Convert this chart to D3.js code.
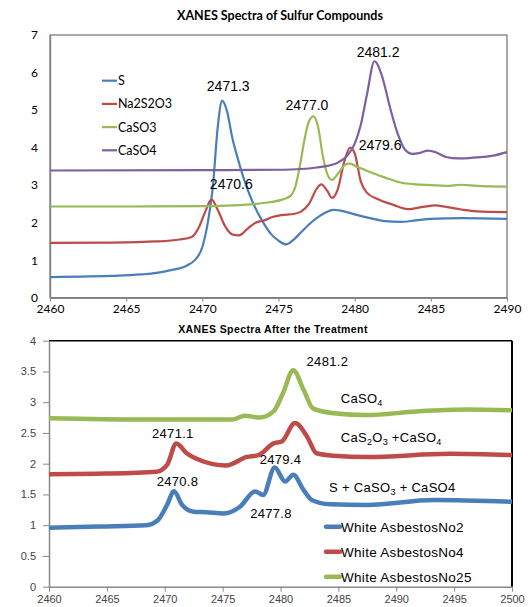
<!DOCTYPE html>
<html>
<head>
<meta charset="utf-8">
<script src="https://cdn.jsdelivr.net/npm/d3@7"></script>
<style>
  body { margin: 0; background: #fff; }
  svg { display: block; }
</style>
</head>
<body>
<div id="chart"></div>
<script>
// XANES spectra — two stacked panels

// ---- top panel data: [energy, intensity]
const topNames = ["S", "Na2S2O3", "CaSO3", "CaSO4"];
const topColors = ["#4a7ebb", "#be4b48", "#98b954", "#7d60a0"];

const sData = [
  [2460, 0.55], [2462, 0.56], [2464, 0.58], [2466, 0.62], [2467, 0.66], [2468, 0.74],
  [2469, 0.86], [2469.5, 1.0], [2470, 1.35], [2470.4, 2.1], [2470.7, 3.0], [2471, 4.5],
  [2471.3, 5.25], [2471.6, 5.0], [2472, 4.2], [2472.3, 3.75], [2472.7, 3.2], [2473.3, 2.55],
  [2474, 2.0], [2474.5, 1.7], [2475, 1.52], [2475.5, 1.42], [2476, 1.55], [2476.5, 1.75],
  [2477, 1.95], [2477.5, 2.12], [2478, 2.25], [2478.6, 2.34], [2479.3, 2.3], [2480, 2.22],
  [2481, 2.12], [2482, 2.04], [2483, 2.02], [2484, 2.06], [2485, 2.1], [2487, 2.12], [2490, 2.1]
];
const na2s2o3Data = [
  [2460, 1.46], [2464, 1.47], [2467, 1.5], [2468.5, 1.55], [2469.3, 1.62], [2469.8, 1.9],
  [2470.2, 2.3], [2470.6, 2.62], [2471, 2.35], [2471.5, 1.9], [2472, 1.68], [2472.4, 1.66],
  [2473, 1.85], [2473.5, 2.0], [2474, 2.05], [2474.6, 2.15], [2475.2, 2.2], [2476, 2.23],
  [2476.5, 2.3], [2477, 2.5], [2477.5, 2.9], [2477.8, 3.02], [2478.2, 2.85], [2478.5, 2.66],
  [2478.9, 2.9], [2479.3, 3.6], [2479.7, 4.0], [2480, 3.85], [2480.4, 3.1], [2480.8, 2.8],
  [2481.5, 2.63], [2482.5, 2.48], [2483.5, 2.36], [2484.5, 2.42], [2485.3, 2.46], [2486, 2.42],
  [2487, 2.35], [2488, 2.3], [2490, 2.28]
];
const caso3Data = [
  [2460, 2.43], [2465, 2.43], [2470, 2.44], [2472, 2.46], [2473.5, 2.5], [2474.5, 2.55],
  [2475.3, 2.62], [2475.8, 2.72], [2476.1, 2.95], [2476.4, 3.5], [2476.7, 4.2], [2477, 4.7],
  [2477.3, 4.83], [2477.6, 4.55], [2477.9, 3.8], [2478.2, 3.3], [2478.5, 3.14], [2478.9, 3.3],
  [2479.4, 3.55], [2479.7, 3.57], [2480.2, 3.48], [2481, 3.35], [2482, 3.2], [2483, 3.07],
  [2484, 3.02], [2485, 3.0], [2486, 2.98], [2487, 3.01], [2488, 2.98], [2490, 2.96]
];
const caso4Data = [
  [2460, 3.39], [2470, 3.4], [2475, 3.41], [2476.5, 3.43], [2477.5, 3.47], [2478.3, 3.52],
  [2478.9, 3.6], [2479.5, 3.78], [2480, 4.1], [2480.4, 4.6], [2480.8, 5.4], [2481.3, 6.3],
  [2481.8, 5.9], [2482.3, 5.1], [2482.8, 4.4], [2483.3, 3.95], [2483.8, 3.83], [2484.3, 3.86],
  [2484.8, 3.92], [2485.3, 3.88], [2486, 3.75], [2486.8, 3.71], [2488, 3.74], [2489, 3.78],
  [2490, 3.88]
];
const topSeries = [sData, na2s2o3Data, caso3Data, caso4Data];

const topXTicks = [2460, 2465, 2470, 2475, 2480, 2485, 2490];
const topYTicks = [0, 1, 2, 3, 4, 5, 6, 7];
// peak labels: [text, anchor energy, anchor value]
const topPeaks = [
  ["2471.3", 2471.7, 5.52],
  ["2477.0", 2476.87, 5.0],
  ["2481.2", 2481.54, 6.42],
  ["2479.6", 2481.67, 3.94],
  ["2470.6", 2471.9, 2.9]
];

// ---- bottom panel data
const botNames = ["White AsbestosNo2", "White AsbestosNo4", "White AsbestosNo25"];
const botColors = ["#4a7ebb", "#be4b48", "#98b954"];

const no2Data = [
  [2460, 0.96], [2464.4, 0.98], [2468.4, 1.0], [2469.4, 1.08], [2470.2, 1.33], [2470.8, 1.55],
  [2471.5, 1.33], [2472.5, 1.22], [2473.6, 1.21], [2475.1, 1.19], [2476.5, 1.3], [2477.8, 1.55],
  [2478.5, 1.49], [2479.5, 1.94], [2480.4, 1.71], [2481.1, 1.82], [2482, 1.57], [2482.7, 1.41],
  [2484.3, 1.34], [2487.5, 1.33], [2493.2, 1.41], [2500, 1.38]
];
const no4Data = [
  [2460, 1.83], [2465, 1.84], [2469.3, 1.87], [2470.2, 1.98], [2471.0, 2.33], [2471.9, 2.17],
  [2473, 2.06], [2475.3, 1.97], [2477.1, 2.11], [2478.1, 2.14], [2479.4, 2.33], [2480.1, 2.36],
  [2481.25, 2.66], [2482.3, 2.44], [2483.1, 2.17], [2484.6, 2.13], [2487.5, 2.11], [2494.6, 2.16],
  [2500, 2.14]
];
const no25Data = [
  [2460, 2.74], [2468, 2.72], [2475.9, 2.72], [2476.9, 2.78], [2478.2, 2.75], [2479.4, 2.85],
  [2480.2, 3.14], [2481.1, 3.52], [2482, 3.2], [2482.8, 2.9], [2484.6, 2.82], [2487.4, 2.79],
  [2491.8, 2.85], [2496.1, 2.88], [2500, 2.87]
];
const botSeries = [no2Data, no4Data, no25Data];

const botXTicks = [2460, 2465, 2470, 2475, 2480, 2485, 2490, 2495, 2500];
const botYTicks = [0, 0.5, 1, 1.5, 2, 2.5, 3, 3.5, 4];
const botPeaks = [
  ["2481.2", 2484.05, 3.59],
  ["2471.1", 2470.7, 2.41],
  ["2479.4", 2480.0, 2.0],
  ["2470.8", 2471.1, 1.63],
  ["2477.8", 2479.18, 1.11]
];
// compound labels: [text parts (sub = subscript), energy, value]
const botCompounds = [
  [[["CaSO", ""], ["4", "sub"]], 2485.2, 2.98],
  [[["CaS", ""], ["2", "sub"], ["O", ""], ["3", "sub"], [" +CaSO", ""], ["4", "sub"]], 2485.2, 2.35],
  [[["S + CaSO", ""], ["3", "sub"], [" + CaSO4", ""]], 2484.2, 1.54]
];

const W = 528, H = 607;
const svg = d3.select("#chart").append("svg").attr("width", W).attr("height", H);

// ============ TOP PANEL ============
const tx = d3.scaleLinear().domain([2460, 2490]).range([50, 507]);
const ty = d3.scaleLinear().domain([0, 7]).range([297.7, 35]);

svg.append("text")
  .attr("x", 280).attr("y", 20)
  .attr("text-anchor", "middle")
  .style("font-family", "Lato, 'Open Sans', sans-serif")
  .style("font-weight", "700")
  .style("font-size", "12.5px")
  .text("XANES Spectra of Sulfur Compounds");

// box
svg.append("rect")
  .attr("x", 50).attr("y", 35).attr("width", 457).attr("height", 262.7)
  .attr("fill", "none").attr("stroke", "#555").attr("stroke-width", 1);

const topXAxis = svg.append("g")
  .attr("transform", "translate(0,297.7)")
  .call(d3.axisBottom(tx).tickValues(topXTicks).tickSize(4).tickSizeOuter(0).tickFormat(d3.format("d")));
const topYAxis = svg.append("g")
  .attr("transform", "translate(50,0)")
  .call(d3.axisLeft(ty).tickValues(topYTicks).tickSize(0).tickPadding(12).tickSizeOuter(0).tickFormat(d3.format("d")));
[topXAxis, topYAxis].forEach(a => {
  a.select(".domain").attr("stroke", "#888").attr("stroke-width", 1.5);
  a.selectAll(".tick line").attr("stroke", "#888");
  a.selectAll("text")
    .style("font-family", "Lato, 'Open Sans', sans-serif")
    .style("font-size", "12px")
    .attr("fill", "#000");
});

const topLine = d3.line()
  .x(d => tx(d[0])).y(d => ty(d[1]))
  .curve(d3.curveMonotoneX);

topSeries.forEach((s, i) => {
  svg.append("path")
    .datum(s)
    .attr("d", topLine)
    .attr("fill", "none")
    .attr("stroke", topColors[i])
    .attr("stroke-width", 2.2);
});

// top legend
topNames.forEach((n, i) => {
  const y = 80.7 + i * 23.2;
  svg.append("line")
    .attr("x1", 102).attr("x2", 117).attr("y1", y).attr("y2", y)
    .attr("stroke", topColors[i]).attr("stroke-width", 2.2);
  svg.append("text")
    .attr("x", 118).attr("y", y + 4.5)
    .style("font-family", "Lato, 'Open Sans', sans-serif")
    .style("font-size", "12.5px")
    .text(n);
});

topPeaks.forEach(p => {
  svg.append("text")
    .attr("x", tx(p[1])).attr("y", ty(p[2]))
    .attr("text-anchor", "middle")
    .style("font-family", "'Liberation Sans', Arial, sans-serif")
    .style("font-size", "14px")
    .text(p[0]);
});

// ============ BOTTOM PANEL ============
const bx = d3.scaleLinear().domain([2460, 2500]).range([49, 512]);
const by = d3.scaleLinear().domain([0, 4]).range([586.7, 340.7]);

svg.append("text")
  .attr("x", 273).attr("y", 333)
  .attr("text-anchor", "middle")
  .style("font-family", "'Liberation Sans', Arial, sans-serif")
  .style("font-weight", "700")
  .style("font-size", "10.5px")
  .style("letter-spacing", "0.4px")
  .text("XANES Spectra After the Treatment");

// top and right borders
svg.append("line")
  .attr("x1", 49).attr("x2", 512).attr("y1", 340.7).attr("y2", 340.7)
  .attr("stroke", "#000").attr("stroke-width", 1.5);
svg.append("line")
  .attr("x1", 512).attr("x2", 512).attr("y1", 340.7).attr("y2", 586.7)
  .attr("stroke", "#000").attr("stroke-width", 2);

const botXAxis = svg.append("g")
  .attr("transform", "translate(0,586.7)")
  .call(d3.axisBottom(bx).tickValues(botXTicks).tickSize(5).tickPadding(4).tickSizeOuter(0).tickFormat(d3.format("d")));
const botYAxis = svg.append("g")
  .attr("transform", "translate(49,0)")
  .call(d3.axisLeft(by).tickValues(botYTicks).tickSize(6).tickPadding(7).tickSizeOuter(0).tickFormat(d3.format("~g")));
[botXAxis, botYAxis].forEach(a => {
  a.select(".domain").attr("stroke", "#888").attr("stroke-width", 1.5);
  a.selectAll(".tick line").attr("stroke", "#888");
  a.selectAll("text")
    .style("font-family", "'Liberation Sans', Arial, sans-serif")
    .style("font-size", "11px")
    .attr("fill", "#444");
});

const botLine = d3.line()
  .x(d => bx(d[0])).y(d => by(d[1]))
  .curve(d3.curveMonotoneX);

botSeries.forEach((s, i) => {
  svg.append("path")
    .datum(s)
    .attr("d", botLine)
    .attr("fill", "none")
    .attr("stroke", botColors[i])
    .attr("stroke-width", 4.5)
    .attr("stroke-linejoin", "round");
});

botPeaks.forEach(p => {
  svg.append("text")
    .attr("x", bx(p[1])).attr("y", by(p[2]))
    .attr("text-anchor", "middle")
    .style("font-family", "'Liberation Sans', Arial, sans-serif")
    .style("font-size", "13px")
    .style("letter-spacing", "0.3px")
    .text(p[0]);
});

botCompounds.forEach(c => {
  const t = svg.append("text")
    .attr("x", bx(c[1])).attr("y", by(c[2]))
    .style("font-family", "'Liberation Sans', Arial, sans-serif")
    .style("font-size", "13px")
    .style("letter-spacing", "0.3px");
  c[0].forEach(part => {
    const sp = t.append("tspan").text(part[0]);
    if (part[1] === "sub") {
      sp.style("font-size", "9px").attr("dy", 3);
    } else {
      sp.attr("dy", t.selectAll("tspan").size() > 1 ? -3 : 0);
    }
  });
});

// bottom legend
botNames.forEach((n, i) => {
  const y = 526.7 + i * 25;
  svg.append("line")
    .attr("x1", 326).attr("x2", 340).attr("y1", y).attr("y2", y)
    .attr("stroke", botColors[i]).attr("stroke-width", 4.5)
    .attr("stroke-linecap", "round");
  svg.append("text")
    .attr("x", 341).attr("y", y + 5)
    .style("font-family", "'Liberation Sans', Arial, sans-serif")
    .style("font-size", "13.5px")
    .style("letter-spacing", "0.3px")
    .text(n);
});
</script>
</body>
</html>
